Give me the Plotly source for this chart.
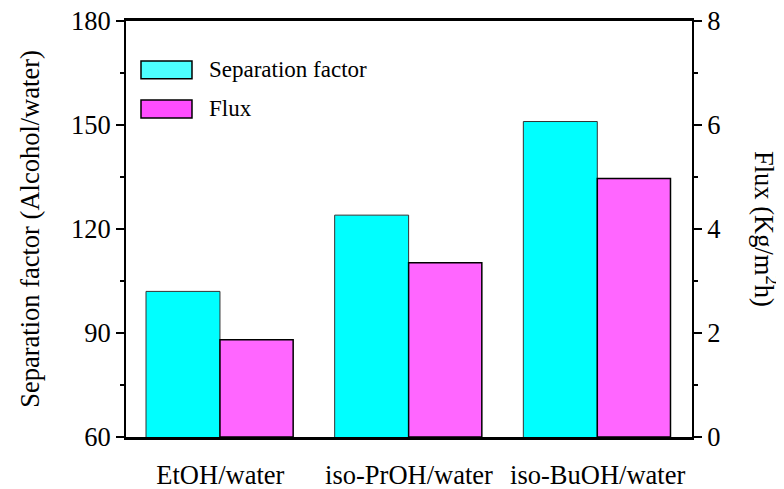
import plotly.graph_objects as go

categories = ["EtOH/water", "iso-PrOH/water", "iso-BuOH/water"]
separation_factor = [102, 124, 151]
flux = [1.87, 3.35, 4.97]

left_ticks = [60, 90, 120, 150, 180]
right_ticks = [0, 2, 4, 6, 8]

FONT = "Liberation Serif, Times New Roman, serif"
CYAN = "#00FFFF"
MAGENTA = "#FF66FF"

fig = go.Figure()
fig.add_trace(go.Bar(
    x=categories, y=separation_factor, name="Separation factor",
    marker=dict(color=CYAN, line=dict(color="#333333", width=1)),
    width=0.392, offset=-0.394, yaxis="y", showlegend=False,
))
fig.add_trace(go.Bar(
    x=categories, y=flux, name="Flux",
    marker=dict(color=MAGENTA, line=dict(color="black", width=1.5)),
    width=0.388, offset=-0.002, yaxis="y2", showlegend=False,
))

# page body has an 8px margin, so the figure is 8px smaller and shifted
fig.update_layout(
    width=776, height=481,
    margin=dict(l=118, r=92, t=13, b=52, autoexpand=False),
    paper_bgcolor="white", plot_bgcolor="white",
    font=dict(family=FONT, color="black", size=26),
    barmode="overlay",
    xaxis=dict(
        range=[-0.5, 2.5], showgrid=False, zeroline=False, automargin=False,
        showline=True, linecolor="black", linewidth=2.5, mirror=True,
        ticks="outside", ticklen=12, tickcolor="rgba(0,0,0,0)",
        ticklabeloverflow="allow",
        tickfont=dict(size=26.5, family=FONT),
    ),
    yaxis=dict(
        range=[60, 180], tickvals=left_ticks, showgrid=False, zeroline=False,
        automargin=False, ticklabeloverflow="allow",
        showline=True, linecolor="black", linewidth=2,
        ticks="outside", ticklen=8, tickwidth=2, tickcolor="black",
        minor=dict(dtick=15, tick0=60, ticks="outside", ticklen=4, tickwidth=1.5,
                   tickcolor="black", showgrid=False),
        tickfont=dict(size=26.5, family=FONT),
        title=dict(text="Separation factor (Alcohol/water)", font=dict(size=26.5, family=FONT),
                   standoff=24),
    ),
    yaxis2=dict(
        range=[0, 8], tickvals=right_ticks, overlaying="y", side="right",
        showgrid=False, zeroline=False, automargin=False, ticklabeloverflow="allow",
        showline=True, linecolor="black", linewidth=2,
        ticks="outside", ticklen=8, tickwidth=2, tickcolor="black",
        minor=dict(dtick=1, tick0=0, ticks="outside", ticklen=4, tickwidth=1.5,
                   tickcolor="black", showgrid=False),
        tickfont=dict(size=26.5, family=FONT),
    ),
)

# Right-axis title, reading top to bottom
fig.add_annotation(
    text="Flux (Kg/m<sup>2</sup>h)", textangle=90,
    xref="paper", yref="paper", x=1, y=0.5, xanchor="center", yanchor="middle",
    xshift=74, showarrow=False, font=dict(size=26.5, family=FONT),
)

# Legend drawn as boxes + labels
legend_items = [("Separation factor", "#4DFFFF", 0.861, 0.904),
                ("Flux", "#FF4DFF", 0.767, 0.810)]
for label, col, y0, y1 in legend_items:
    fig.add_shape(type="rect", xref="paper", yref="paper",
                  x0=0.0265, x1=0.1166, y0=y0, y1=y1,
                  fillcolor=col, line=dict(color="black", width=1.5))
    fig.add_annotation(text=label, xref="paper", yref="paper",
                       x=0.143, y=(y0 + y1) / 2, xanchor="left", yanchor="middle",
                       showarrow=False, font=dict(size=23, family=FONT))

fig.write_html("out.html")
